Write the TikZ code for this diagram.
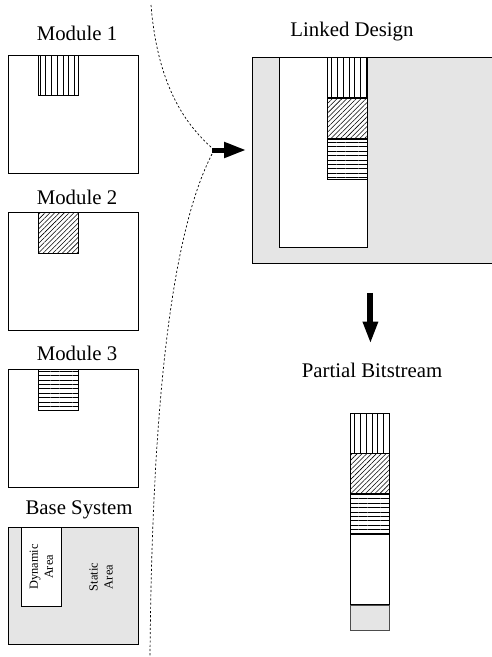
\documentclass[tikz,border=0pt]{standalone}
\usepackage{fontspec}
\setmainfont{Liberation Serif}
\usetikzlibrary{patterns.meta,arrows.meta}

\tikzset{
    blk/.style={rectangle,draw,line width=0.6pt,inner sep=0,anchor=north west},
    vlines/.style={pattern={Lines[angle=90,distance=0.143cm,line width=0.4pt]}},
    dlines/.style={pattern={Lines[angle=45,distance=0.085cm,line width=0.4pt]}},
    hlines/.style={pattern={Lines[angle=0,distance=0.11cm,line width=0.4pt]}},
    lbl/.style={font=\fontsize{14.8}{17}\selectfont},
    small/.style={rotate=90,align=center,font=\fontsize{8.8}{10.7}\selectfont}
}

\begin{document}
\begin{tikzpicture}
    \useasboundingbox (0,0) rectangle (12.3,-16.425);
    \draw

    % modules
    (0.2,-1.375)node[blk,minimum width=3.25cm,minimum height=2.95cm](m1){}
    (0.95,-1.375)node[blk,vlines,minimum width=1cm,minimum height=1cm](p1){}
    (1.925,-0.825)node[lbl](l1){Module 1}

    (0.2,-5.3)node[blk,minimum width=3.25cm,minimum height=2.95cm](m2){}
    (0.95,-5.3)node[blk,dlines,minimum width=1cm,minimum height=1.025cm](p2){}
    (1.925,-4.925)node[lbl](l2){Module 2}

    (0.2,-9.225)node[blk,minimum width=3.25cm,minimum height=2.95cm](m3){}
    (0.95,-9.225)node[blk,hlines,minimum width=1cm,minimum height=1.025cm](p3){}
    (1.925,-8.825)node[lbl](l3){Module 3}

    % base system
    (0.2,-13.175)node[blk,fill=gray!20,minimum width=3.25cm,minimum height=2.925cm](base){}
    (0.525,-13.175)node[blk,fill=white,minimum width=1cm,minimum height=1.975cm](dyn){}
    (dyn.center)node[small]{Dynamic\\Area}
    (2.525,-14.425)node[small](stat){Static\\Area}
    (1.975,-12.75)node[lbl](l4){Base System}

    % linked design
    (6.3,-1.425)node[blk,fill=gray!20,minimum width=6cm,minimum height=5.15cm](ld){}
    (6.975,-1.425)node[blk,fill=white,minimum width=2.2cm,minimum height=4.75cm](ldin){}
    (8.175,-1.425)node[blk,vlines,minimum width=1cm,minimum height=1cm](q1){}
    (q1.south west)node[blk,dlines,minimum width=1cm,minimum height=1cm](q2){}
    (q2.south west)node[blk,hlines,minimum width=1cm,minimum height=1cm](q3){}
    (8.8,-0.8)node[lbl](l5){Linked Design}

    % partial bitstream
    (8.75,-10.325)node[blk,vlines,minimum width=0.975cm,minimum height=0.99cm](b1){}
    (b1.south west)node[blk,dlines,minimum width=0.975cm,minimum height=0.99cm](b2){}
    (b2.south west)node[blk,hlines,minimum width=0.975cm,minimum height=0.99cm](b3){}
    (b3.south west)node[blk,fill=white,minimum width=0.975cm,minimum height=1.75cm](b4){}
    (b4.south west)node[blk,fill=gray!20,draw=black!70,minimum width=0.975cm,minimum height=0.625cm](b5){}
    (9.3,-9.25)node[lbl](l6){Partial Bitstream}
    ;

    \coordinate(top) at (3.775,-0.125);
    \coordinate(join) at (5.3,-3.75);
    \coordinate(bot) at (3.75,-16.425);

    \draw[dash pattern=on 1.5pt off 1.5pt,line width=0.5pt](top)..controls(3.95,-2.3)and(4.75,-3.2)..([yshift=0.05cm]join);
    \draw[dash pattern=on 1.5pt off 1.5pt,line width=0.5pt]([yshift=-0.1cm]join)..controls(4.3,-5.8)and(3.8,-10)..(bot);

    \draw[line width=0.125cm,-{Triangle[length=0.55cm,width=0.375cm]},shorten >=0.15cm](join)--(join-|ld.west);
    \draw[line width=0.15cm,-{Triangle[length=0.55cm,width=0.35cm]},shorten <=0.725cm,shorten >=0.35cm]([xshift=-0.05cm]ld.south)--([xshift=-0.05cm]ld.south|-l6.north);

\end{tikzpicture}
\end{document}
